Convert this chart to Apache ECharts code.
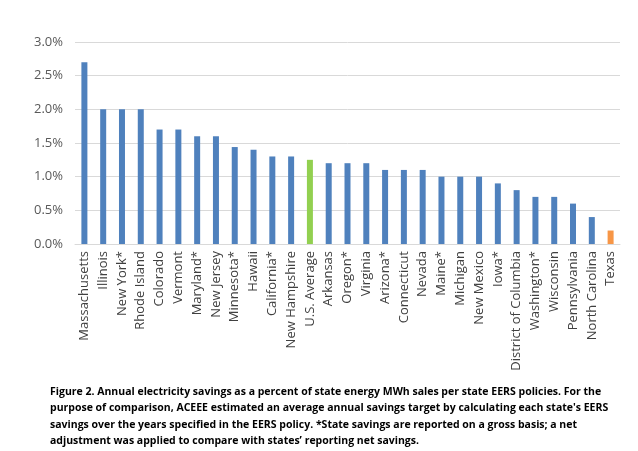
<!DOCTYPE html>
<html><head><meta charset="utf-8">
<script src="https://cdn.jsdelivr.net/npm/echarts@6/dist/echarts.min.js"></script>
<style>html,body{margin:0;padding:0;background:#fff}#c{width:638px;height:451px}</style>
</head><body><div id="c"></div>
<script>
var states = ["Massachusetts","Illinois","New York*","Rhode Island","Colorado","Vermont","Maryland*","New Jersey","Minnesota*","Hawaii","California*","New Hampshire","U.S. Average","Arkansas","Oregon*","Virginia","Arizona*","Connecticut","Nevada","Maine*","Michigan","New Mexico","Iowa*","District of Columbia","Washington*","Wisconsin","Pennsylvania","North Carolina","Texas"];
var savings = [2.7,2.0,2.0,2.0,1.7,1.7,1.6,1.6,1.44,1.4,1.3,1.3,1.25,1.2,1.2,1.2,1.1,1.1,1.1,1.0,1.0,1.0,0.9,0.8,0.7,0.7,0.6,0.4,0.2];
var yTicks = [0,0.5,1.0,1.5,2.0,2.5,3.0];
var caption = "Figure 2. Annual electricity savings as a percent of state energy MWh sales per state EERS policies. For the\npurpose of comparison, ACEEE estimated an average annual savings target by calculating each state's EERS\nsavings over the years specified in the EERS policy. *State savings are reported on a gross basis; a net\nadjustment was applied to compare with states\u2019 reporting net savings.";

function colorFor(name){
  if(name === "U.S. Average") return "#92d050";
  if(name === "Texas") return "#f79646";
  return "#4f81bd";
}
var chart = echarts.init(document.getElementById('c'));
chart.setOption({
  animation:false,
  grid:{left:75,right:18,top:42,bottom:207},
  xAxis:{type:'category',data:states,
    axisLine:{show:true,lineStyle:{color:'#d9d9d9'}},
    axisTick:{show:false},
    axisLabel:{rotate:90,interval:0,color:'#404040',fontFamily:'Open Sans',fontSize:13,margin:7}},
  yAxis:{type:'value',min:yTicks[0],max:yTicks[yTicks.length-1],interval:0.5,
    axisLine:{show:false},axisTick:{show:false},
    splitLine:{lineStyle:{color:'#d9d9d9'}},
    axisLabel:{color:'#595959',fontFamily:'Open Sans',fontSize:13,margin:12,
      formatter:function(v){return v.toFixed(1)+'%';}}},
  series:[{type:'bar',barWidth:6,
    data:savings.map(function(v,i){return {value:v,itemStyle:{color:colorFor(states[i])}};})}],
  graphic:[{type:'text',left:50,top:384,style:{text:caption,fill:'#000',font:'bold 10.5px "Open Sans"',lineHeight:16.3}}]
});
</script></body></html>
